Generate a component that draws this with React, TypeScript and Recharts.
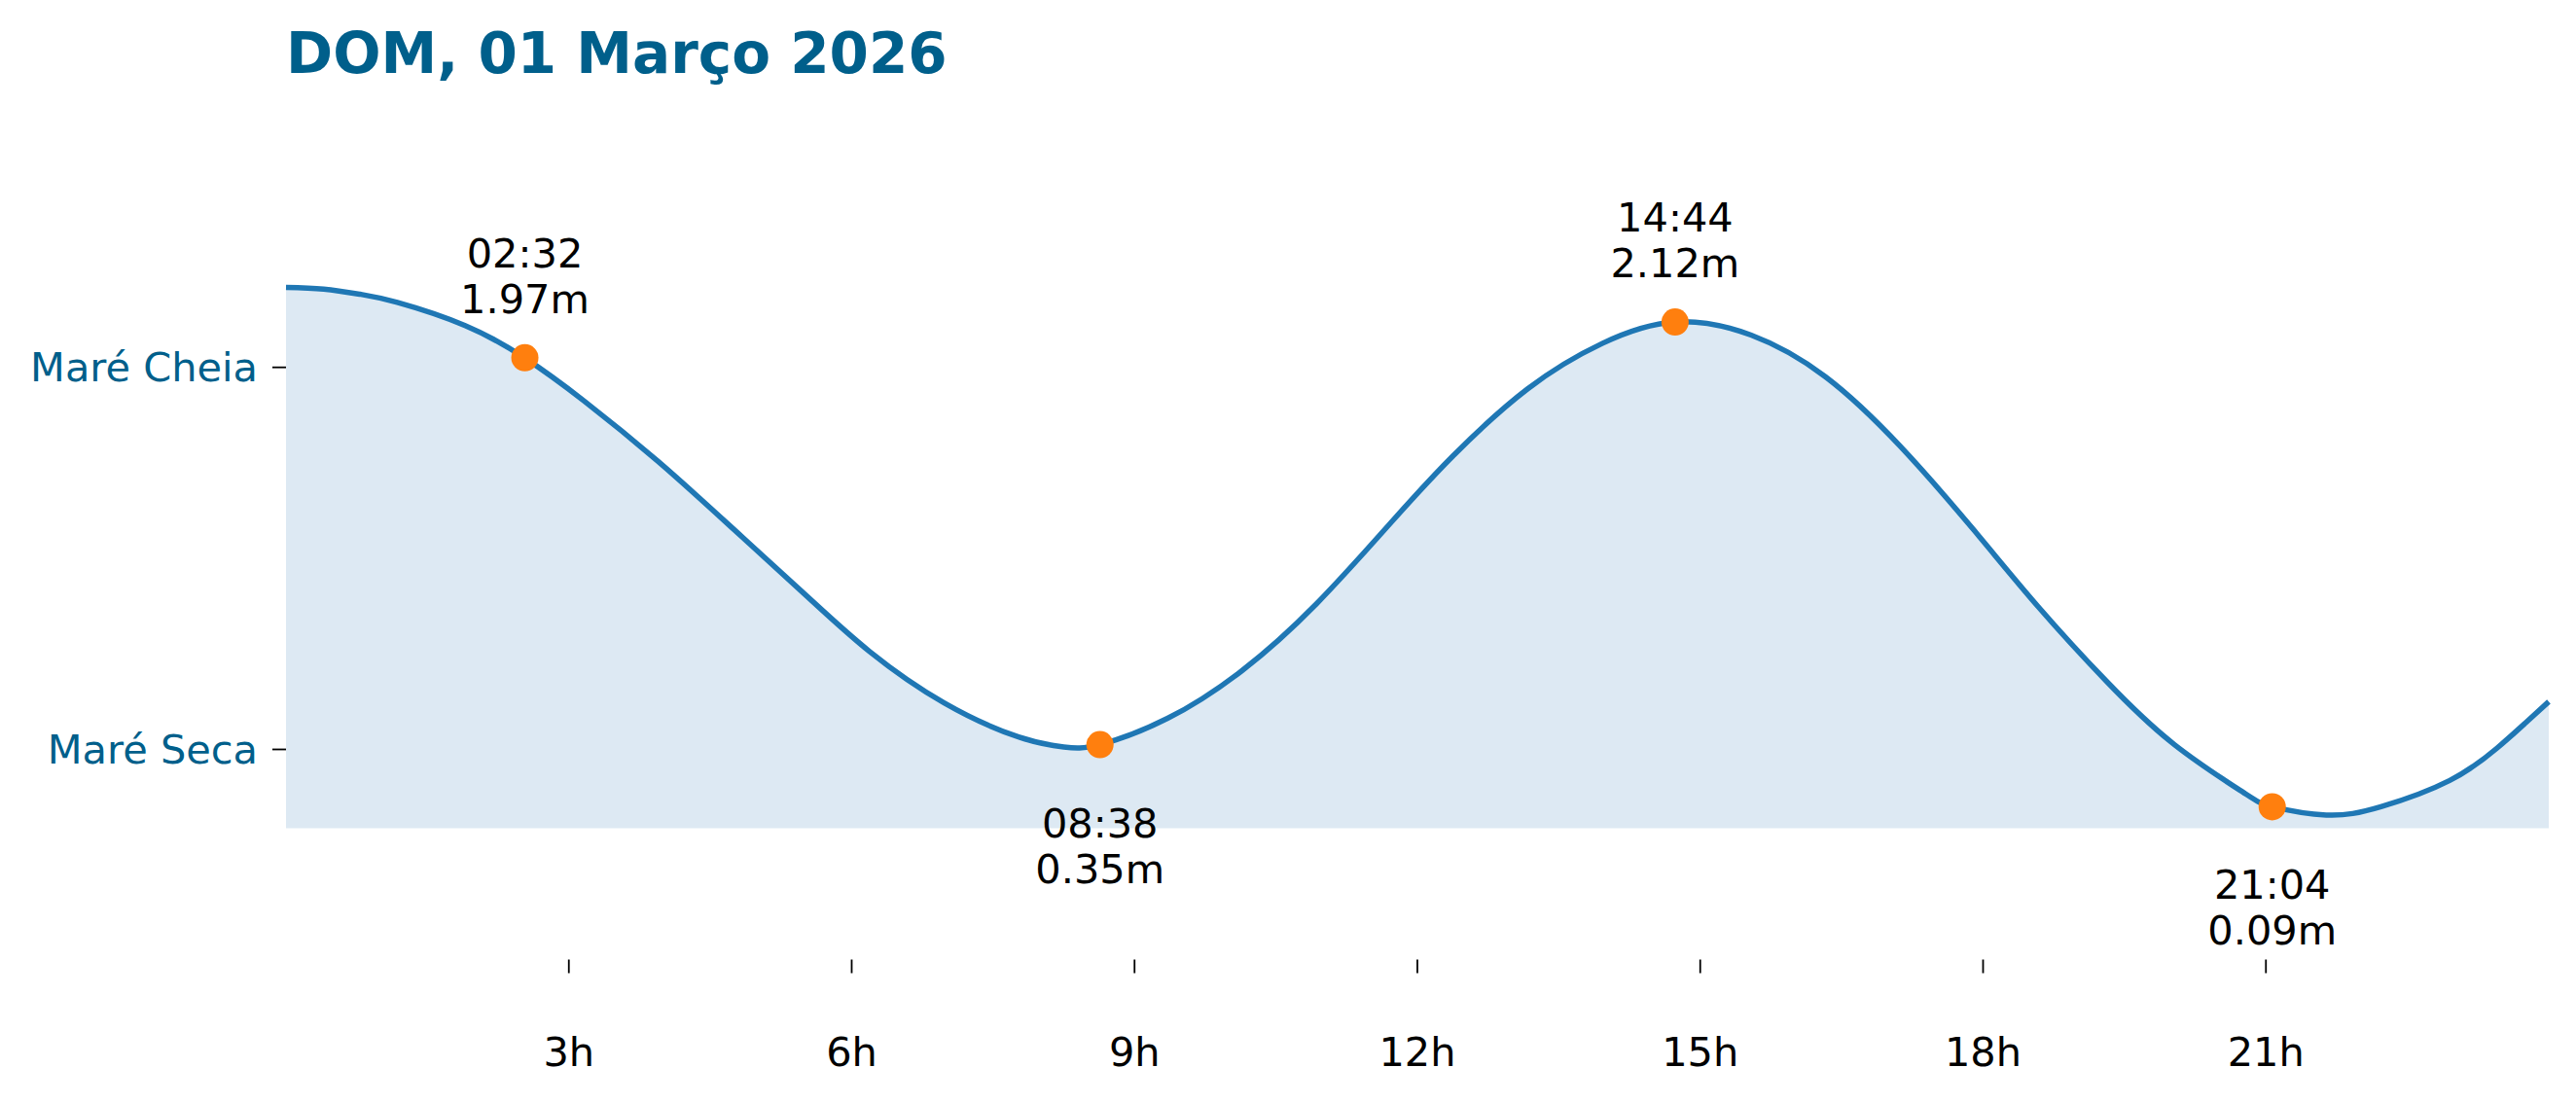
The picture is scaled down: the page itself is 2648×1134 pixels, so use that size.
import React from 'react';
import { ComposedChart, Area, Line, Scatter, XAxis, YAxis } from 'recharts';

// tide curve (hour of day, metres)
const HOURS = [
  0, 0.4, 0.79, 1.18, 1.9, 2.53, 3.16, 3.95, 4.74, 5.53, 6.19, 6.98, 7.77, 8.25, 8.63, 9.35,
  10.14, 10.93, 11.72, 12.38, 13.17, 13.96, 14.73, 15.54, 16.33, 17.12, 17.91, 18.58, 19.31,
  20.03, 20.76, 21.07, 21.64, 22.22, 22.95, 23.45, 23.75, 24,
];
const LEVELS = [
  2.265, 2.258, 2.236, 2.202, 2.105, 1.97, 1.79, 1.535, 1.255, 0.97, 0.74, 0.525, 0.382, 0.34,
  0.35, 0.46, 0.66, 0.94, 1.28, 1.56, 1.84, 2.03, 2.12, 2.065, 1.89, 1.6, 1.245, 0.93, 0.615,
  0.35, 0.15, 0.09, 0.055, 0.09, 0.2, 0.335, 0.44, 0.53,
];

// high / low water marks
const EXTREME_TIMES = ['02:32', '08:38', '14:44', '21:04'];
const EXTREME_HOURS = [2 + 32 / 60, 8 + 38 / 60, 14 + 44 / 60, 21 + 4 / 60];
const EXTREME_LEVELS = [1.97, 0.35, 2.12, 0.09];
const EXTREME_KIND = ['high', 'low', 'high', 'low'];

const X_TICKS = [3, 6, 9, 12, 15, 18, 21];
const Y_TICKS = [1.93, 0.33];
const Y_LABELS = ['Maré Cheia', 'Maré Seca'];

const TITLE = 'DOM, 01 Março 2026';

const BLUE = '#1f77b4';
const ORANGE = '#ff7f0e';
const TEXT_BLUE = '#005f8b';
const FONT = '"DejaVu Sans", Verdana, sans-serif';
const FS = 41.5;

const curve = HOURS.map((h, i) => ({ h, v: LEVELS[i] }));
const extremes = EXTREME_HOURS.map((h, i) => ({
  h,
  v: EXTREME_LEVELS[i],
  time: EXTREME_TIMES[i],
  kind: EXTREME_KIND[i],
}));

const XTick = (props: any) => {
  const { x, y, payload } = props;
  return (
    <g>
      <line x1={x} x2={x} y1={y + 135} y2={y + 149} stroke="#000" strokeWidth={1.8} />
      <text x={x} y={y + 244} textAnchor="middle" fontSize={FS} fontFamily={FONT} fill="#000">
        {`${payload.value}h`}
      </text>
    </g>
  );
};

const TideMark = (props: any) => {
  const { cx, cy, payload } = props;
  const high = payload.kind === 'high';
  const y1 = high ? cy - 93 : cy + 95;
  const y2 = high ? cy - 46 : cy + 142;
  return (
    <g>
      <circle cx={cx} cy={cy} r={14} fill={ORANGE} />
      <text x={cx} y={y1} textAnchor="middle" fontSize={FS} fontFamily={FONT} fill="#000">
        {payload.time}
      </text>
      <text x={cx} y={y2} textAnchor="middle" fontSize={FS} fontFamily={FONT} fill="#000">
        {`${payload.v.toFixed(2)}m`}
      </text>
    </g>
  );
};

export default function App() {
  return (
    <div style={{ position: 'absolute', left: 0, top: 0, width: 2648, height: 1134, background: '#fff' }}>
      <svg width={2648} height={120} style={{ position: 'absolute', left: 0, top: 0 }}>
        <text x={294} y={75} fontSize={58} fontWeight="bold" fontFamily={FONT} fill={TEXT_BLUE}>
          {TITLE}
        </text>
      </svg>
      <ComposedChart
        width={2648}
        height={1134}
        data={curve}
        margin={{ top: 115, right: 28, left: 0, bottom: 0 }}
      >
        <XAxis
          type="number"
          dataKey="h"
          domain={[0, 24]}
          ticks={X_TICKS}
          axisLine={false}
          tickLine={false}
          tickSize={0}
          tickMargin={0}
          height={282.5}
          tick={<XTick />}
        />
        <YAxis
          type="number"
          domain={[0, 3]}
          ticks={Y_TICKS}
          width={294}
          axisLine={false}
          tickSize={14}
          tickMargin={15}
          tickLine={{ stroke: '#000', strokeWidth: 1.8 }}
          tick={{ fill: TEXT_BLUE, fontSize: FS, fontFamily: FONT }}
          tickFormatter={(v: number) => Y_LABELS[Y_TICKS.indexOf(v)] ?? ''}
        />
        <Area
          type="natural"
          dataKey="v"
          stroke="none"
          fill="#dde9f3"
          fillOpacity={1}
          isAnimationActive={false}
        />
        <Scatter data={extremes} dataKey="v" shape={<TideMark />} isAnimationActive={false} />
        <Line
          type="natural"
          dataKey="v"
          stroke={BLUE}
          strokeWidth={5.5}
          dot={false}
          activeDot={false}
          isAnimationActive={false}
        />
      </ComposedChart>
    </div>
  );
}
